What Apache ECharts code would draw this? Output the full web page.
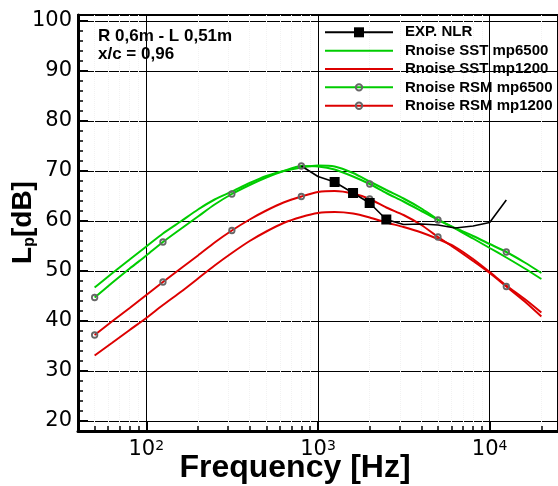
<!DOCTYPE html>
<html><head><meta charset="utf-8">
<script src="https://cdn.jsdelivr.net/npm/echarts@6/dist/echarts.min.js"></script>
<style>html,body{margin:0;padding:0;background:#fff}#c{width:558px;height:486px}</style>
</head><body><div id="c"></div>
<script>
// third-octave band centre frequencies (Hz)
const freqs = [50,63,80,100,125,160,200,250,315,400,500,630,800,1000,1250,1600,2000,2500,3150,4000,5000,6300,8000,10000,12500,16000,20000];
const sst6500 = [46.7,49.5,52.3,54.9,57.5,60.0,62.3,64.3,65.9,67.6,69.0,70.0,70.7,71.1,70.9,69.6,67.9,66.2,64.5,62.5,60.3,58.5,56.5,54.6,52.7,50.5,48.4];
const sst1200 = [33.1,35.6,38.2,40.6,43.2,45.9,48.5,51.1,53.6,56.0,57.9,59.6,60.8,61.6,61.8,61.5,60.7,59.7,58.8,57.7,56.4,54.8,52.4,49.8,47.1,44.4,41.7];
const rsm6500 = [44.7,47.6,50.5,53.1,55.8,58.5,60.9,63.3,65.4,67.2,68.7,70.0,71.0,70.9,70.3,68.9,67.4,65.6,63.9,62.0,60.2,58.6,57.0,55.4,53.8,51.7,49.6];
const rsm1200 = [37.2,39.9,42.6,45.2,47.8,50.6,53.1,55.7,58.1,60.3,62.1,63.7,64.9,65.8,66.0,65.5,64.4,62.7,61.2,59.2,56.8,54.5,52.0,49.6,46.9,43.9,40.9];
const rsmMarkerFreqs = [50,125,315,800,2000,5000,12500];
const expFreqs = [800,1000,1250,1600,2000,2500,3150,4000,5000,6300,8000,10000,12500];
const expLevels = [71.0,68.9,67.8,65.6,63.6,60.3,59.3,59.4,59.2,58.6,59.0,59.7,64.2];
const expSquareFreqs = [1250,1600,2000,2500];
const xMajorTicks = [100,1000,10000];
const xMinorTicks = [50,60,70,80,90,200,300,400,500,600,700,800,900,2000,3000,4000,5000,6000,7000,8000,9000,20000];
const yMajorTicks = [20,30,40,50,60,70,80,90,100];
const yMinorTicks = [22,24,26,28,32,34,36,38,42,44,46,48,52,54,56,58,62,64,66,68,72,74,76,78,82,84,86,88,92,94,96,98];
const seriesNames = ['EXP. NLR','Rnoise SST mp6500','Rnoise SST mp1200','Rnoise RSM mp6500','Rnoise RSM mp1200'];
const annotation = ['R 0,6m - L 0,51m','x/c = 0,96'];
const xTitle = 'Frequency [Hz]';

const GREEN = '#00cc00', RED = '#dd0000', RING = '#666666';
const SANS = '"Liberation Sans", Arial, sans-serif';
const TICKFONT = '"DejaVu Sans", sans-serif';
const LINE_ICON = 'path://M0,0H68V2H0Z';

function plain(vals){ return freqs.map((f,i)=>[f, vals[i]]); }
function marked(fs, vals, marks){ return fs.map((f,i)=> marks.includes(f) ? [f, vals[i]] : {value:[f, vals[i]], symbol:'none'}); }

const chart = echarts.init(document.getElementById('c'), null, {renderer:'canvas'});
const axisCommonX = {type:'log', logBase:10, min:40, max:25000, gridIndex:0};
const axisCommonY = {type:'value', min:18, max:101.2, gridIndex:0};
chart.setOption({
  animation:false,
  grid:{left:78, right:-3, top:15, bottom:55, show:true, borderColor:'#000', borderWidth:2, backgroundColor:'transparent'},
  xAxis:[
    Object.assign({}, axisCommonX, {
      position:'bottom',
      axisLine:{show:true, onZero:false, lineStyle:{color:'#000', width:3}},
      axisTick:{show:true, inside:true, length:10, lineStyle:{color:'#000', width:2}, customValues:xMajorTicks},
      axisLabel:{show:true, customValues:xMajorTicks, margin:8, color:'#000', fontFamily:TICKFONT, fontSize:21, lineHeight:22,
        formatter:(v)=>'10{s|'+Math.round(Math.log10(v))+'}',
        rich:{s:{fontFamily:TICKFONT, fontSize:14, lineHeight:14, verticalAlign:'top', color:'#000'}}},
      splitLine:{show:true, lineStyle:{color:'#000', width:1}},
      minorTick:{show:false}, minorSplitLine:{show:false}
    }),
    Object.assign({}, axisCommonX, {
      position:'bottom',
      axisLine:{show:false}, axisLabel:{show:false},
      axisTick:{show:true, inside:true, length:5, lineStyle:{color:'#000', width:1.5}, customValues:xMinorTicks},
      splitLine:{show:true, lineStyle:{color:'#f2f2f2', width:1, type:'dotted'}}
    })
  ],
  yAxis:[
    Object.assign({}, axisCommonY, {
      position:'left',
      axisLine:{show:true, onZero:false, lineStyle:{color:'#000', width:3}},
      axisTick:{show:true, inside:true, length:10, lineStyle:{color:'#000', width:2}, customValues:yMajorTicks},
      axisLabel:{show:true, customValues:yMajorTicks, margin:6, color:'#000', fontFamily:TICKFONT, fontSize:21},
      splitLine:{show:true, lineStyle:{color:'#000', width:1}}
    }),
    Object.assign({}, axisCommonY, {
      position:'left',
      axisLine:{show:false}, axisLabel:{show:false},
      axisTick:{show:true, inside:true, length:5, lineStyle:{color:'#000', width:1.5}, customValues:yMinorTicks},
      splitLine:{show:false}
    })
  ],
  legend:[
    {data:[{name:seriesNames[0]}], orient:'vertical', left:324, top:24.3, padding:0, itemWidth:68, itemHeight:12.5, itemGap:0,
     selectedMode:false, textStyle:{fontFamily:SANS, fontWeight:'bold', fontSize:15, color:'#000', lineHeight:16, padding:[0,0,0,7]}},
    {data:[{name:seriesNames[1], icon:LINE_ICON},{name:seriesNames[2], icon:LINE_ICON},{name:seriesNames[3]},{name:seriesNames[4]}],
     orient:'vertical', left:324, top:42.7, padding:0, itemWidth:68, itemHeight:8, itemGap:2.33,
     selectedMode:false, textStyle:{fontFamily:SANS, fontWeight:'bold', fontSize:15, color:'#000', lineHeight:16, padding:[0,0,0,7]}}
  ],
  graphic:[
    {type:'text', x:98, y:27, z:100, style:{text:annotation.join('\n'), font:'bold 17px '+SANS, fill:'#000', lineHeight:18, textVerticalAlign:'top'}},
    {type:'text', x:295, y:468, z:100, style:{text:xTitle, font:'bold 32px '+SANS, fill:'#000', textAlign:'center', textVerticalAlign:'middle'}},
    {type:'text', x:23, y:222.5, rotation:Math.PI/2, z:100, style:{text:'{a|L}{b|p}{a|[dB]}', textAlign:'center', textVerticalAlign:'middle', fill:'#000',
      rich:{a:{fontFamily:SANS, fontWeight:'bold', fontSize:28, lineHeight:30, fill:'#000'}, b:{fontFamily:SANS, fontWeight:'bold', fontSize:16, lineHeight:9, verticalAlign:'bottom', fill:'#000'}}}}
  ],
  series:[
    {name:seriesNames[1], type:'line', xAxisIndex:0, yAxisIndex:0, data:plain(sst6500), symbol:'none', smooth:0.25,
     itemStyle:{color:GREEN}, lineStyle:{color:GREEN, width:2}},
    {name:seriesNames[2], type:'line', xAxisIndex:0, yAxisIndex:0, data:plain(sst1200), symbol:'none', smooth:0.25,
     itemStyle:{color:RED}, lineStyle:{color:RED, width:2}},
    {name:seriesNames[3], type:'line', xAxisIndex:0, yAxisIndex:0, data:marked(freqs, rsm6500, rsmMarkerFreqs), symbol:'circle', symbolSize:5.5, smooth:0.25,
     itemStyle:{color:'transparent', borderColor:RING, borderWidth:1.8}, lineStyle:{color:GREEN, width:2}},
    {name:seriesNames[4], type:'line', xAxisIndex:0, yAxisIndex:0, data:marked(freqs, rsm1200, rsmMarkerFreqs), symbol:'circle', symbolSize:5.5, smooth:0.25,
     itemStyle:{color:'transparent', borderColor:RING, borderWidth:1.8}, lineStyle:{color:RED, width:2}},
    {name:seriesNames[0], type:'line', xAxisIndex:0, yAxisIndex:0, data:marked(expFreqs, expLevels, expSquareFreqs), symbol:'rect', symbolSize:10,
     itemStyle:{color:'#000'}, lineStyle:{color:'#000', width:1.6}}
  ]
});
</script></body></html>
